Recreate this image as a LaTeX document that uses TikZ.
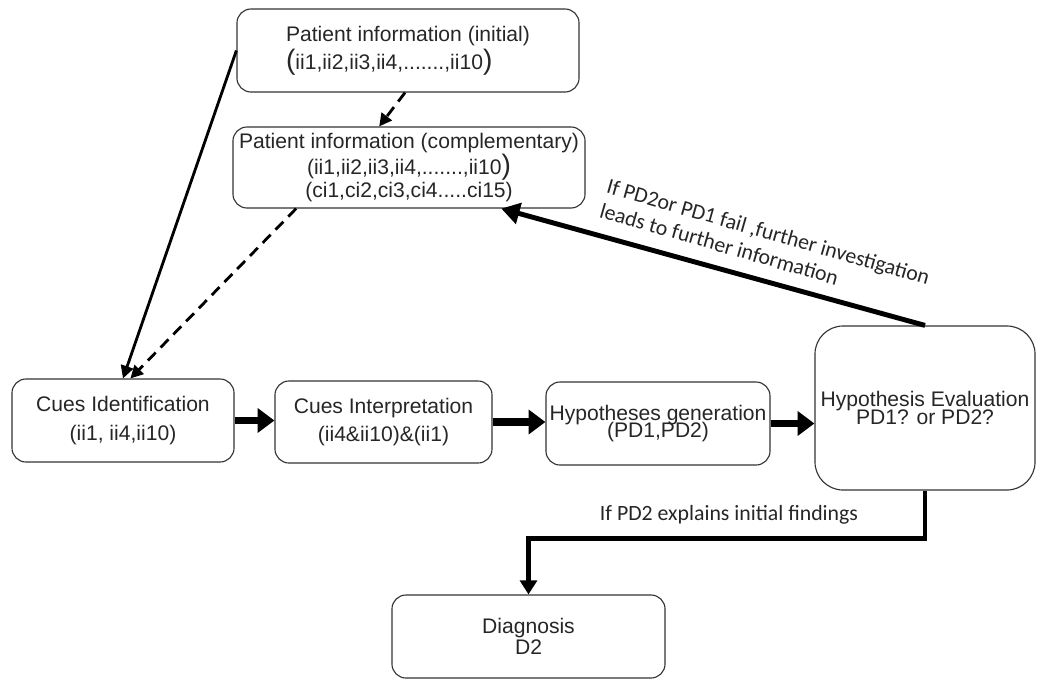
\documentclass[tikz,border=0pt]{standalone}
\usepackage{fontspec}
\setmainfont{Liberation Sans}
\newfontfamily\labelfont{Carlito}
\usetikzlibrary{arrows.meta}
\newcommand{\bparen}[1]{{\fontsize{20}{20}\selectfont #1}}

\begin{document}
\begin{tikzpicture}[x=0.025cm,y=-0.025cm,
  box/.style={draw=black!80,line width=0.8pt,rounded corners=10pt,inner sep=0pt,
    align=center,text=black!85,font={\fontsize{15}{20}\selectfont}},
  tight/.style={font={\fontsize{15}{12.6}\selectfont\lineskiplimit=-10pt}},
  thick arrow/.style={line width=5pt,-{Triangle[length=12pt,width=17pt]}},
  thin arrow/.style={line width=2pt,-{Triangle[length=9pt,width=9pt]}},
  note/.style={text=black!85,font={\labelfont\fontsize{15.5}{18}\selectfont}}]
\useasboundingbox (0,0) rectangle (1038,679);

% patient information
\node[box,align=left,minimum width=8.55cm,minimum height=2.075cm] (init) at (408,50.5)
  {Patient information (initial)\\ \bparen{(}ii1,ii2,ii3,ii4,.......,ii10\bparen{)}};
\node[box,minimum width=8.8cm,minimum height=2.025cm,font={\fontsize{15}{16.5}\selectfont}] (comp) at (409,167.5)
  {Patient information (complementary)\\ (ii1,ii2,ii3,ii4,.......,ii10\bparen{)}\\ (ci1,ci2,ci3,ci4.....ci15)};

% reasoning steps
\node[box,minimum width=5.55cm,minimum height=2.075cm] (cid) at (123,420.5)
  {Cues Identification\\ (ii1, ii4,ii10)};
\node[box,minimum width=5.425cm,minimum height=2.05cm] (cint) at (383.5,422)
  {Cues Interpretation\\ (ii4\&ii10)\&(ii1)};
\node[box,tight,minimum width=5.6cm,minimum height=2.075cm] (hgen) at (658,423.5)
  {Hypotheses generation\\ (PD1,PD2)};
\node[box,tight,rounded corners=20pt,minimum width=5.5cm,minimum height=4.1cm] (heval) at (925,408)
  {Hypothesis Evaluation\\ PD1? or PD2?};
\node[box,font={\fontsize{15}{15}\selectfont},minimum width=6.825cm,minimum height=2.075cm] (diag) at (528.5,636.5)
  {Diagnosis\\ D2};

% connectors
\draw[thin arrow] (init.west) -- (cid.north);
\draw[thin arrow,dash pattern=on 8pt off 5pt] (init.-94) -- (comp.126);
\draw[thin arrow,dash pattern=on 8pt off 5pt] (comp.200) -- (cid.80);
\draw[thick arrow] (cid.east) -- (cid.east -| cint.west);
\draw[thick arrow] (cint.east) -- (cint.east -| hgen.west);
\draw[thick arrow] (hgen.east) -- (hgen.east -| heval.west);
\draw[line width=3.5pt,-{Triangle[length=13pt,width=15pt]}] (heval.north) -- (comp.-24);
\draw[line width=3.5pt,-{Triangle[length=10pt,width=12pt]}] (heval.south) -- ++(0,48) -| (diag.north);

% labels
\node[note,rotate=-16,align=left] (fail) at (765,244)
  {If PD2or PD1 fail ,further investigation\\ leads to further information};
\node[note] (expl) at (729,515) {If PD2 explains initial findings};
\end{tikzpicture}
\end{document}
